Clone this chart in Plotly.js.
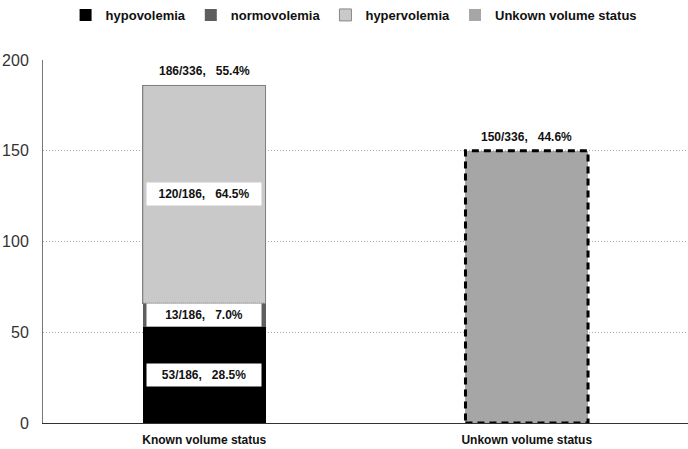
<!DOCTYPE html>
<html><head><meta charset="utf-8">
<script src="https://cdn.plot.ly/plotly-3.0.1.min.js"></script>
<style>body{margin:0;background:#fff}#chart{width:688px;height:449px}</style>
</head><body><div id="chart"></div>
<script>
// ---- data ----
const categories = ["Known volume status", "Unkown volume status"];
const seriesNames = ["hypovolemia", "normovolemia", "hypervolemia", "Unkown volume status"];
const hypovolemia = [53, 0];
const normovolemia = [13, 0];
const hypervolemia = [120, 0];
const unknownStatus = [0, 150];
const totalPatients = 336;
const yTicks = [0, 50, 100, 150, 200];

// ---- styling ----
const colors = ["#000000", "#5e5e5e", "#c9c9c9", "#a6a6a6"];
const barWidth = 0.38;
const FAM = "Liberation Sans, Arial, sans-serif";
const labelFont = {family: FAM, size: 12, color: "#111", weight: 700};
const NB = "\u00a0";
const xIdx = categories.map((_, i) => i);

const stacks = [hypovolemia, normovolemia, hypervolemia, unknownStatus];
const traces = stacks.map((vals, k) => ({
  type: "bar",
  name: seriesNames[k],
  x: xIdx,
  y: vals,
  width: barWidth,
  marker: {color: colors[k], line: {width: k === 2 ? 1 : 0, color: "#888"}},
  hoverinfo: "skip"
}));

const knownTotal = hypovolemia[0] + normovolemia[0] + hypervolemia[0];
const pct = (a, b) => (100 * a / b).toFixed(1) + "%";

const annotations = [];
let base = 0;
[hypovolemia, normovolemia, hypervolemia].forEach(vals => {
  const v = vals[0];
  annotations.push({
    x: 0, y: base + v / 2, xref: "x", yref: "y",
    text: v + "/" + knownTotal + "," + NB + NB + NB + pct(v, knownTotal),
    showarrow: false, bgcolor: "#ffffff", width: 112, height: 20,
    font: labelFont, xanchor: "center", yanchor: "middle"
  });
  base += v;
});
const totals = [knownTotal, unknownStatus[1]];
totals.forEach((t, i) => {
  annotations.push({
    x: i, y: t, xref: "x", yref: "y",
    text: t + "/" + totalPatients + "," + NB + NB + NB + pct(t, totalPatients),
    showarrow: false, font: labelFont, xanchor: "center", yanchor: "bottom", yshift: 5
  });
});

const shapes = [
  {type: "rect", xref: "x", yref: "y", x0: 0 - barWidth / 2, x1: 0 + barWidth / 2,
   y0: hypovolemia[0] + normovolemia[0], y1: knownTotal,
   line: {color: "#777", width: 1, dash: "1px,1px"}, fillcolor: "rgba(0,0,0,0)", layer: "above"},
  {type: "rect", xref: "x", yref: "y", x0: 1 - barWidth / 2, x1: 1 + barWidth / 2,
   y0: 0, y1: unknownStatus[1],
   line: {color: "#000", width: 3, dash: "7px,5px"}, fillcolor: "rgba(0,0,0,0)", layer: "above"}
];

const layout = {
  width: 688, height: 449,
  margin: {l: 43, r: 0, t: 57, b: 26},
  paper_bgcolor: "#fff", plot_bgcolor: "#fff",
  barmode: "stack",
  showlegend: true,
  legend: {orientation: "h", x: 0.035, xanchor: "left", y: 1.125, yanchor: "middle",
           font: {family: FAM, size: 13, color: "#111", weight: 700},
           traceorder: "normal", itemwidth: 30},
  xaxis: {range: [-0.5, 1.5], tickvals: xIdx, ticktext: categories, showgrid: false, zeroline: false,
          showline: true, linecolor: "#333", linewidth: 1, ticks: "", ticklabelstandoff: 6,
          tickfont: {family: FAM, size: 12, color: "#111", weight: 700}},
  yaxis: {range: [0, 200], tickvals: yTicks, showgrid: true, gridcolor: "#aaa", griddash: "1px,2px", gridwidth: 1,
          zeroline: false, showline: true, linecolor: "#777", linewidth: 1, ticks: "", ticklabelstandoff: 10,
          tickfont: {family: FAM, size: 16, color: "#333"}},
  annotations: annotations,
  shapes: shapes
};

Plotly.newPlot("chart", traces, layout, {displayModeBar: false, staticPlot: true});
</script>
</body></html>
